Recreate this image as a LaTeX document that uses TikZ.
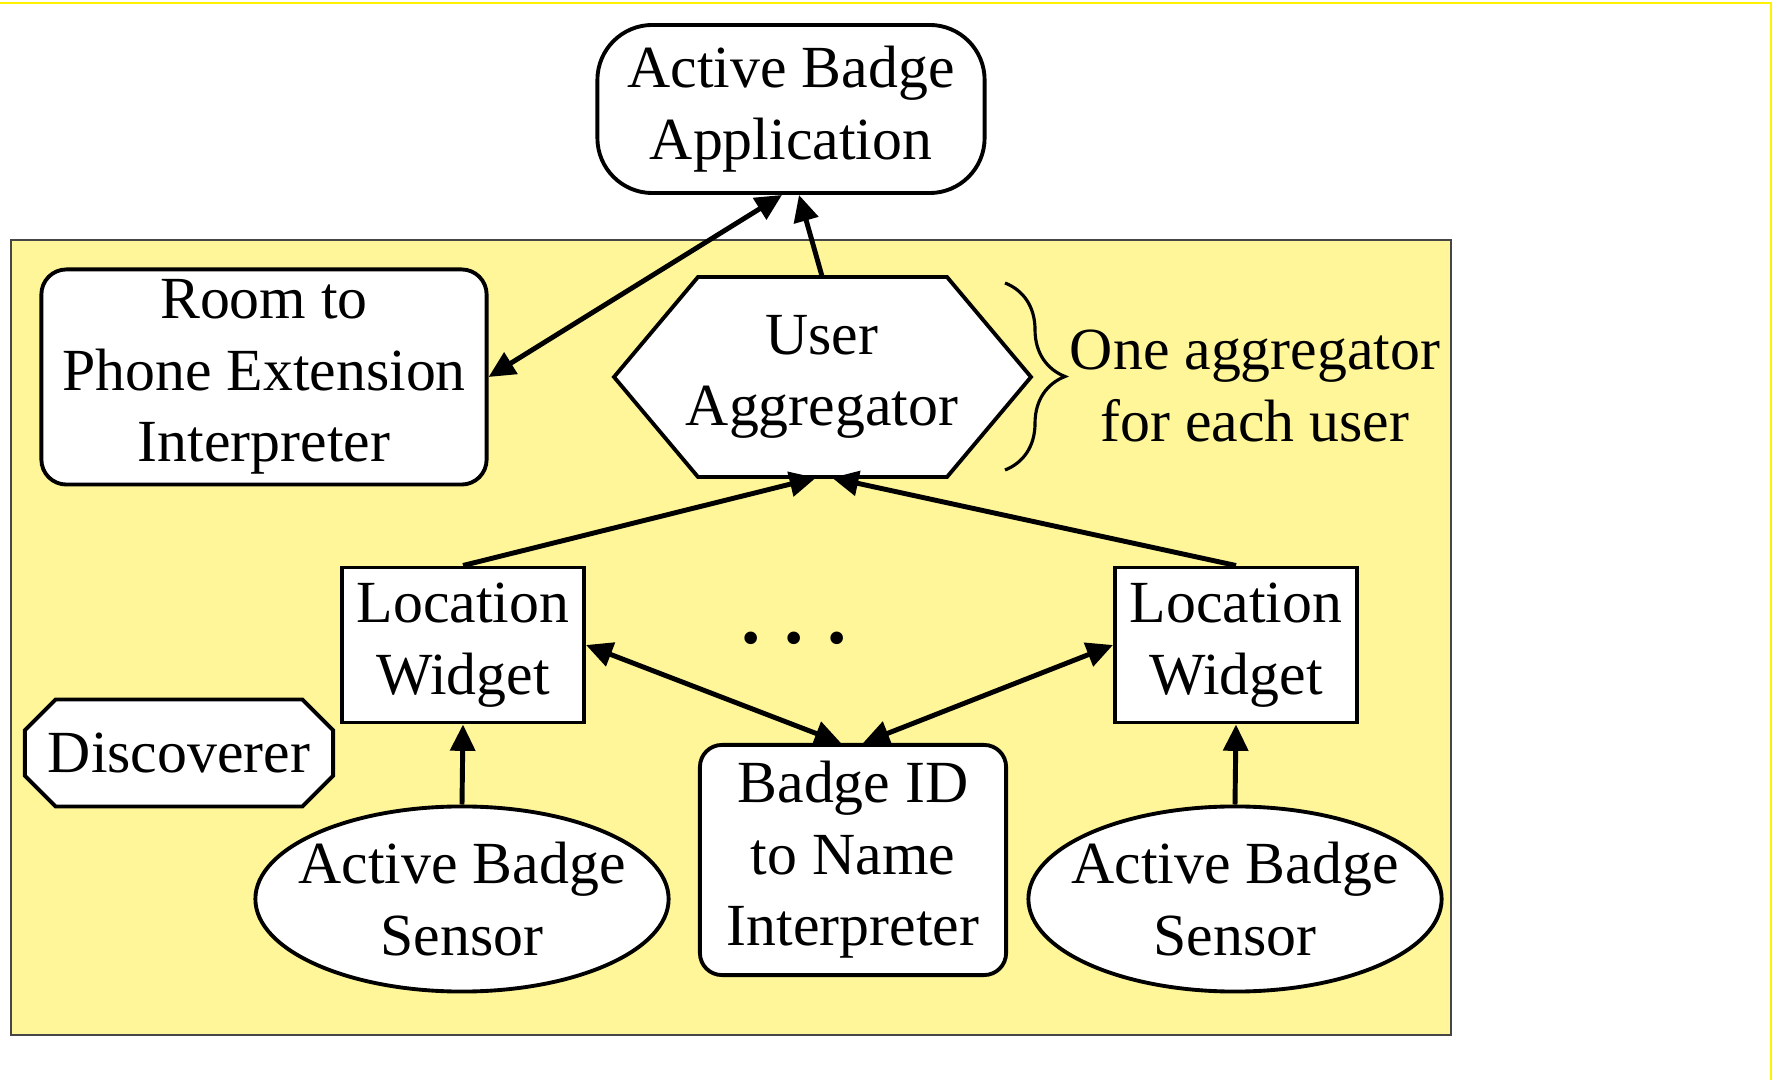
\documentclass[tikz,border=0pt]{standalone}
\usepackage{fontspec}
\setmainfont{Liberation Serif}
\usepackage{xcolor}
\usetikzlibrary{arrows.meta}
\usetikzlibrary{shapes.geometric,shapes.misc}
\usetikzlibrary{decorations.pathreplacing}

\definecolor{panelyellow}{RGB}{255,246,153}
\definecolor{framegray}{RGB}{70,70,70}

\begin{document}
\begin{tikzpicture}[
    x=0.01cm, y=-0.01cm,
    font=\fontsize{17}{20.3}\selectfont,
    >={Triangle[length=7.5pt,width=7pt]},
    every node/.style={align=center, inner sep=0pt},
    comp/.style={draw, fill=white, line width=1.1pt},
    widget/.style={comp, minimum width=2.42cm, minimum height=1.55cm},
    interp/.style={comp, rounded corners=0.22cm},
    sensor/.style={comp, ellipse, inner xsep=-0.3cm, inner ysep=-0.12cm, minimum width=4.13cm, minimum height=1.85cm},
    link/.style={line width=1.4pt}
    ]
\useasboundingbox (0,0) rectangle (1776,1080);
\fill[white] (0,0) rectangle (1776,1080);
\draw[yellow, line width=0.6pt] (0,3) -- (1771,3) -- (1771,1080);

% context toolkit part
\filldraw[fill=panelyellow, draw=framegray, line width=0.6pt] (11,240) rectangle (1451,1035);

\node[comp, rounded corners=0.55cm, minimum width=3.87cm, minimum height=1.68cm] (app) at (791,109) {Active Badge\\Application};
\node[interp, rounded corners=0.25cm, minimum width=4.45cm, minimum height=2.15cm] (room) at (264,377) {Room to\\Phone Extension\\Interpreter};

\coordinate (aggc) at (822,377);
\filldraw[comp] (aggc) ++(-208,0) -- ++(84,-100) -- ++(249,0) -- ++(84,100) -- ++(-84,100) -- ++(-249,0) -- cycle;
\node[minimum width=4.17cm, minimum height=2cm] (agg) at (aggc) {User\\Aggregator};

\draw[decorate, decoration={brace, amplitude=0.6cm}, line width=0.9pt] (1005,283) -- (1005,470);
\node (note) at (1255,386) {One aggregator\\for each user};

\node[widget] (lwl) at (463,645) {Location\\Widget};
\node[widget] (lwr) at (1236,645) {Location\\Widget};
\node[anchor=base, font=\fontsize{22}{22}\selectfont\bfseries] (dots) at (794,644) {.\hspace{6.7pt}.\hspace{6.7pt}.};

\node[comp, chamfered rectangle, chamfered rectangle xsep=0.31cm, minimum width=3.08cm, minimum height=1.07cm] (disc) at (179,753) {Discoverer};

\node[sensor] (sensl) at (462,899) {Active Badge\\Sensor};
\node[interp, minimum width=3.06cm, minimum height=2.3cm] (badge) at (853,860) {Badge ID\\to Name\\Interpreter};
\node[sensor] (sensr) at (1235,899) {Active Badge\\Sensor};

\path[link] (room.east) edge[<->] ([xshift=-0.09cm]app.south);
\path[link] (agg.north) edge[->] ([xshift=0.08cm]app.south);
\path[link] (lwl.north) edge[->] ([xshift=-0.06cm]agg.south);
\path[link] (lwr.north) edge[->] ([xshift=0.1cm]agg.south);
\path[link] (lwl.east) edge[<->] ([xshift=-0.12cm]badge.north);
\path[link] (lwr.west) edge[<->] ([xshift=0.1cm]badge.north);
\path[link] (sensl.north) edge[->] (lwl.south);
\path[link] (sensr.north) edge[->] (lwr.south);
\end{tikzpicture}
\end{document}
